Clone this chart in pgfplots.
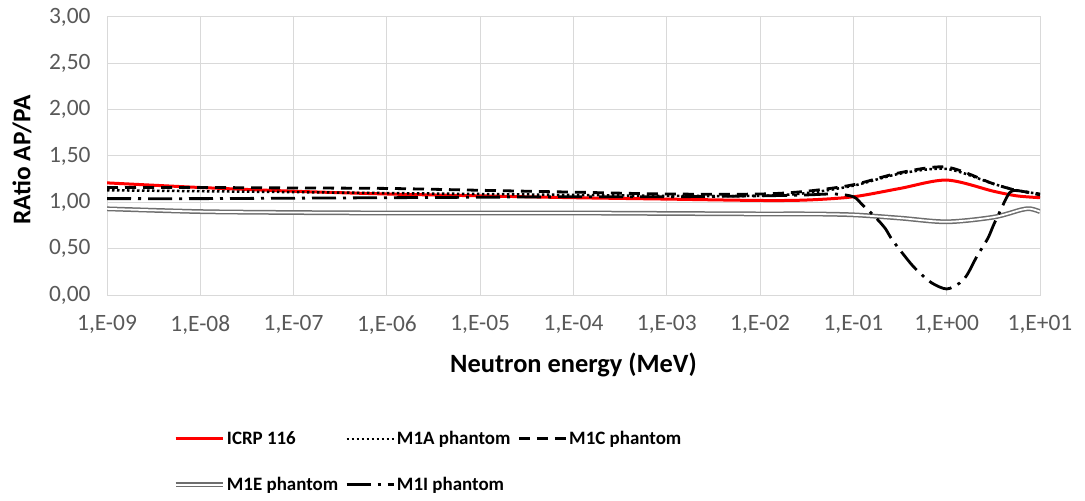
\documentclass[border=0pt]{standalone}
\usepackage{fontspec}
\setmainfont{Carlito}
\usepackage{pgfplots}
\pgfplotsset{compat=1.18}
\definecolor{gridgray}{RGB}{217,217,217}
\definecolor{ticktext}{RGB}{89,89,89}
\definecolor{dgray}{RGB}{110,110,110}
\begin{document}
\begin{tikzpicture}
\path[use as bounding box] (0,0) rectangle (1085bp,501bp);
\begin{axis}[
  at={(107bp,206bp)}, anchor=south west,
  scale only axis, width=933bp, height=278bp,
  xmin=-9, xmax=1, ymin=0, ymax=3,
  xtick={-9,-8,...,1},
  xticklabels={{1,E-09},{1,E-08},{1,E-07},{1,E-06},{1,E-05},{1,E-04},{1,E-03},{1,E-02},{1,E-01},{1,E+00},{1,E+01}},
  ytick={0,0.5,1,1.5,2,2.5,3},
  yticklabels={{0,00},{0,50},{1,00},{1,50},{2,00},{2,50},{3,00}},
  tick style={draw=none},
  grid=major,
  major grid style={draw=gridgray, line width=1bp},
  axis line style={draw=gridgray, line width=1bp},
  ticklabel style={font=\fontsize{23.5}{28}\selectfont, text=ticktext},
  yticklabel style={xshift=-13bp},
  xticklabel style={yshift=-17bp},
  xlabel={\textbf{Neutron energy (MeV)}},
  ylabel={\textbf{RAtio AP/PA}},
  x label style={at={(axis description cs:0.5,-0.25)}, anchor=center, font=\fontsize{26.5}{31}\selectfont},
  y label style={at={(axis description cs:-0.091,0.486)}, anchor=center, rotate=0, font=\fontsize{25.5}{30}\selectfont},
  legend columns=3,
  legend cell align=left,
  legend style={at={(axis description cs:0.0707,-0.483)}, anchor=north west, draw=none, fill=none,
    inner sep=0pt, font=\bfseries\fontsize{19}{23}\selectfont, row sep=27bp,
    /tikz/every even column/.append style={column sep=5bp}},
  legend image code/.code={\draw[#1] (0bp,0bp) -- (47bp,0bp);},
]
% ICRP 116
\addplot[red, line width=3bp, smooth] coordinates {
(-9,1.21) (-8,1.16) (-7,1.12) (-6,1.09) (-5,1.07) (-4,1.05) (-3,1.035) (-2,1.02) (-1.5,1.025) (-1,1.06) (-0.5,1.15) (0,1.24) (0.5,1.12) (0.75,1.07) (1,1.05)
};
\addlegendentry{ICRP 116}
% M1A dotted
\addplot[black, line width=2.5bp, dash pattern=on 2.5bp off 2.5bp, smooth] coordinates {
(-9,1.13) (-8,1.12) (-7,1.11) (-6,1.10) (-5,1.09) (-4,1.08) (-3,1.07) (-2,1.07) (-1.5,1.10) (-1,1.18) (-0.5,1.31) (0,1.36) (0.5,1.20) (0.75,1.13) (1,1.09)
};
\addlegendentry{M1A phantom}
% M1C dashed
\addplot[black, line width=2.8bp, dash pattern=on 11bp off 7bp, smooth] coordinates {
(-9,1.16) (-8,1.16) (-7,1.155) (-6,1.15) (-5,1.13) (-4,1.11) (-3,1.09) (-2,1.09) (-1.5,1.12) (-1,1.19) (-0.5,1.32) (0,1.38) (0.5,1.20) (0.75,1.13) (1,1.09)
};
\addlegendentry{M1C phantom}
% M1E double
\addplot[draw=dgray, double=white, line width=1.5bp, double distance=1.8bp, smooth] coordinates {
(-9,0.93) (-8,0.90) (-7,0.89) (-6,0.885) (-5,0.885) (-4,0.885) (-3,0.88) (-2,0.875) (-1.5,0.875) (-1,0.865) (-0.5,0.83) (0,0.79) (0.5,0.84) (0.8,0.92) (0.9,0.93) (1,0.90)
};
\addlegendentry{M1E phantom}
% M1I dash-dot
\addplot[black, line width=2.8bp, dash pattern=on 24bp off 7bp on 3bp off 7bp, smooth] coordinates {
(-9,1.04) (-8,1.04) (-7,1.045) (-6,1.05) (-5,1.055) (-4,1.06) (-3,1.06) (-2,1.07) (-1.5,1.08) (-1.2,1.09) (-1,1.06) (-0.9,0.97) (-0.77,0.845) (-0.66,0.72) (-0.58,0.59) (-0.39,0.345) (-0.29,0.24) (-0.16,0.13) (0,0.065) (0.14,0.13) (0.22,0.22) (0.32,0.41) (0.44,0.61) (0.5,0.75) (0.57,0.90) (0.68,1.11) (0.8,1.12) (1,1.08)
};
\addlegendentry{M1I phantom}
\end{axis}
\end{tikzpicture}
\end{document}
